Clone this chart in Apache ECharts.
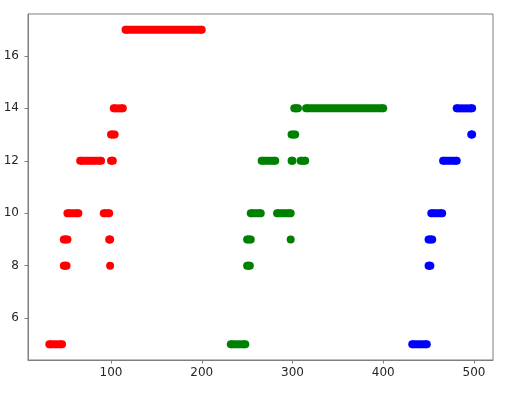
<!DOCTYPE html>
<html>
<head>
<meta charset="utf-8">
<script src="https://cdn.jsdelivr.net/npm/echarts@6/dist/echarts.min.js"></script>
<style>html,body{margin:0;padding:0;background:#fff;}#c{width:505px;height:395px;}</style>
</head>
<body>
<div id="c"></div>
<script>
// Runs of points: [y, xStart, xEnd]
const redRuns = [[5,32,46],[8,48,51],[8,99,99],[9,48,52],[9,98,99],[10,52,64],[10,92,98],[12,66,89],[12,100,102],[13,100,104],[14,103,113],[17,116,200]];
const greenRuns = [[5,232,248],[8,250,253],[9,250,254],[9,298,298],[10,254,265],[10,283,298],[12,266,281],[12,299,300],[12,309,314],[13,299,303],[14,302,306],[14,315,400]];
const blueRuns = [[5,432,448],[8,450,452],[9,450,454],[10,453,465],[12,466,481],[13,497,498],[14,481,498]];
const xTicks = [100,200,300,400,500];
const yTicks = [6,8,10,12,14,16];

const groups = [[redRuns,'#ff0000'],[greenRuns,'#008000'],[blueRuns,'#0000ff']];
const series = [];
groups.forEach(([runs,color])=>{
  runs.forEach(r=>{
    const data = r[1]===r[2] ? [[r[1],r[0]]] : [[r[1],r[0]],[r[2],r[0]]];
    series.push({
      type:'line', data:data, symbol:'circle', symbolSize:8, showSymbol:true, showAllSymbol:true,
      itemStyle:{color:color, borderWidth:0}, lineStyle:{color:color,width:8}, animation:false, silent:true
    });
  });
});
const axisCol = '#7f7f7f';
const chart = echarts.init(document.getElementById('c'));
chart.setOption({
  animation:false,
  grid:{left:28,right:12,top:14,bottom:35,show:true,borderColor:axisCol,borderWidth:1,backgroundColor:'transparent'},
  xAxis:{type:'value',min:8.5,max:521,splitLine:{show:false},
    axisLine:{lineStyle:{color:axisCol}},
    axisTick:{customValues:xTicks,length:3.5,lineStyle:{color:axisCol}},
    axisLabel:{customValues:xTicks,margin:7,color:'#262626',fontFamily:'DejaVu Sans',fontSize:12}},
  yAxis:{type:'value',min:4.4,max:17.6,splitLine:{show:false},
    axisLine:{show:true,lineStyle:{color:axisCol}},
    axisTick:{show:true,customValues:yTicks,length:3.5,lineStyle:{color:axisCol}},
    axisLabel:{customValues:yTicks,margin:9,color:'#262626',fontFamily:'DejaVu Sans',fontSize:12}},
  series:series
});
</script>
</body>
</html>
